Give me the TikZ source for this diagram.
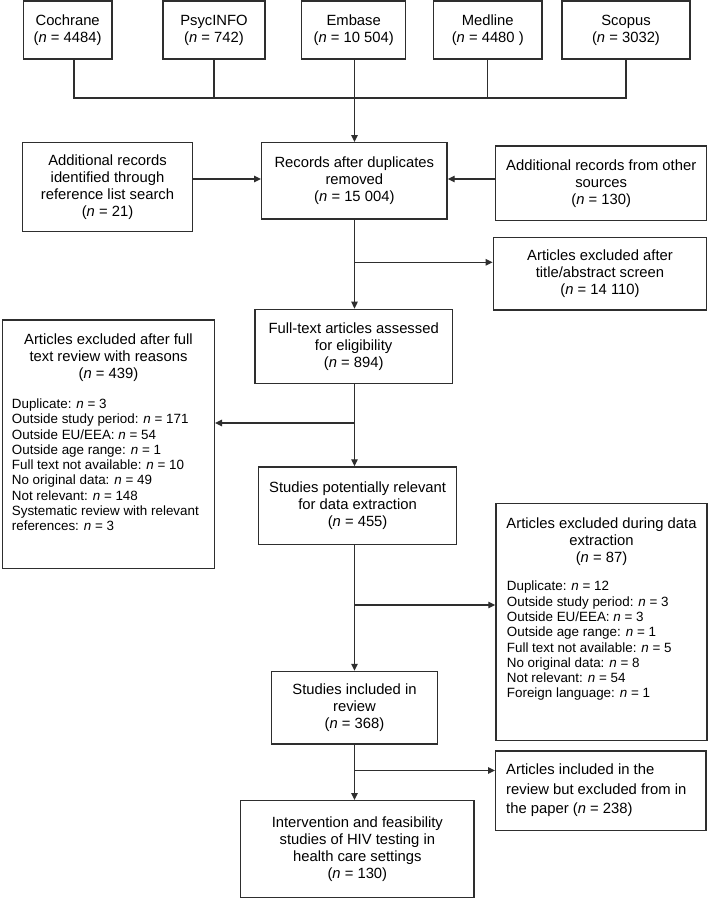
\documentclass[tikz,border=0pt]{standalone}
\usepackage{fontspec}
\setmainfont{Liberation Sans}
\usetikzlibrary{arrows.meta}
\definecolor{ln}{HTML}{2E2E2E}
\tikzset{
  box/.style={draw=ln, line width=1.4pt, rectangle, inner sep=2pt, align=center,
    font=\fontsize{14.8}{17}\selectfont},
  conn/.style={draw=ln, line width=1.3pt},
  arr/.style={conn, -{Triangle[length=7pt,width=6.5pt]}},
  hdr/.style={align=center, inner sep=0pt, font=\fontsize{14.8}{17}\selectfont},
  lst/.style={align=left, inner sep=0pt, anchor=north west, font=\fontsize{13.4}{15.3}\selectfont}
}
\begin{document}
\begin{tikzpicture}[x=1pt, y=-1pt]
\useasboundingbox[fill=white] (0,0) rectangle (709,898);

% top row
\node[box, minimum width=88.3pt, minimum height=58pt] (cochrane) at (67.65,30) {Cochrane\\(\textit{n} = 4484)};
\node[box, minimum width=102pt, minimum height=58pt] (psyc) at (214,30) {PsycINFO\\(\textit{n} = 742)};
\node[box, minimum width=104pt, minimum height=58pt] (embase) at (353.7,30) {Embase\\(\textit{n} = 10 504)};
\node[box, minimum width=108.5pt, minimum height=58pt] (medline) at (487.75,30) {Medline\\(\textit{n} = 4480 )};
\node[box, minimum width=128pt, minimum height=58pt] (scopus) at (626,30) {Scopus\\(\textit{n} = 3032)};

% second row
\node[box, minimum width=185.3pt, minimum height=76.3pt] (records) at (354.35,180.85) {Records after duplicates\\removed\\(\textit{n} = 15 004)};
\node[box, minimum width=170.4pt, minimum height=89.4pt] (addl) at (107.5,187) {Additional records\\identified through\\reference list search\\(\textit{n} = 21)};
\node[box, minimum width=211pt, minimum height=74.7pt] (other) at (601.2,183.35) {Additional records from other\\sources\\(\textit{n} = 130)};
\node[box, minimum width=213.4pt, minimum height=72.3pt] (titleex) at (600,273.85) {Articles excluded after\\title/abstract screen\\(\textit{n} = 14 110)};

% full text
\node[box, minimum width=197.3pt, minimum height=74pt] (fulltext) at (353.65,346.3) {Full-text articles assessed\\for eligibility\\(\textit{n} = 894)};

% left exclusion box
\node[box, minimum width=211.6pt, minimum height=248.3pt] (leftex) at (108.5,444.15) {};
\node[hdr] (leftexh) at (108.5,358) {Articles excluded after full\\text review with reasons\\(\textit{n} = 439)};
\node[lst] (leftexl) at (11.7,398.5) {Duplicate: \textit{n} = 3\\Outside study period: \textit{n} = 171\\Outside EU/EEA: \textit{n} = 54\\Outside age range: \textit{n} = 1\\Full text not available: \textit{n} = 10\\No original data: \textit{n} = 49\\Not relevant: \textit{n} = 148\\Systematic review with relevant\\references: \textit{n} = 3};

% potentially relevant
\node[box, minimum width=198.2pt, minimum height=77.3pt] (potential) at (357.6,505.65) {Studies potentially relevant\\for data extraction\\(\textit{n} = 455)};

% data extraction exclusion box
\node[box, minimum width=211pt, minimum height=237.4pt] (dataex) at (601.5,622) {};
\node[hdr] (dataexh) at (601.5,541.3) {Articles excluded during data\\extraction\\(\textit{n} = 87)};
\node[lst] (dataexl) at (506.7,580.9) {Duplicate: \textit{n} = 12\\Outside study period: \textit{n} = 3\\Outside EU/EEA: \textit{n} = 3\\Outside age range: \textit{n} = 1\\Full text not available: \textit{n} = 5\\No original data: \textit{n} = 8\\Not relevant: \textit{n} = 54\\Foreign language: \textit{n} = 1};

% included
\node[box, minimum width=165.6pt, minimum height=72.5pt] (included) at (354.5,707.75) {Studies included in\\review\\(\textit{n} = 368)};
\node[box, minimum width=210.3pt, minimum height=79.7pt] (inclpaper) at (600.85,790.85) {};
\node[align=left, inner sep=0pt, anchor=west, font=\fontsize{14.8}{19.5}\selectfont] (inclpapert) at (506,790.5) {Articles included in the\\review but excluded from in\\the paper (\textit{n} = 238)};
\node[box, minimum width=233.3pt, minimum height=96.6pt] (final) at (357.35,849) {Intervention and feasibility\\studies of HIV testing in\\health care settings\\(\textit{n} = 130)};

% connectors
\coordinate (sp) at (354.5,0);
\coordinate (hub) at (354.5,98);
\coordinate (ay) at (0,179);
\coordinate (b1) at (354.5,262.3);
\coordinate (b2) at (354.5,423);
\coordinate (b3) at (354.5,605);
\coordinate (b4) at (354.5,770.5);

\draw[conn] ([xshift=6.3pt]cochrane.south) |- (hub) -| (scopus.south);
\draw[conn] (psyc.south) -- (psyc.south |- hub);
\draw[conn] (medline.south) -- (medline.south |- hub);
\draw[arr] (embase.south -| sp) -- (records.north -| sp);
\draw[arr] (addl.east |- ay) -- (records.west |- ay);
\draw[arr] (other.west |- ay) -- (records.east |- ay);
\draw[arr] (records.south -| sp) -- (fulltext.north -| sp);
\draw[arr] (b1) -- (titleex.west |- b1);
\draw[arr] (fulltext.south -| sp) -- (potential.north -| sp);
\draw[arr] (b2) -- (leftex.east |- b2);
\draw[arr] (potential.south -| sp) -- (included.north -| sp);
\draw[arr] (b3) -- (dataex.west |- b3);
\draw[arr] (included.south -| sp) -- (final.north -| sp);
\draw[arr] (b4) -- (inclpaper.west |- b4);
\end{tikzpicture}
\end{document}
